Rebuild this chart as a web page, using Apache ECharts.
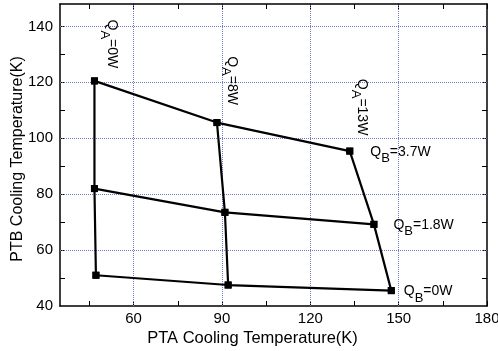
<!DOCTYPE html>
<html>
<head>
<meta charset="utf-8">
<script src="https://cdn.jsdelivr.net/npm/echarts@6/dist/echarts.min.js"></script>
<style>
  html, body { margin: 0; padding: 0; background: #fff; }
  #chart { width: 498px; height: 351px; }
</style>
</head>
<body>
<div id="chart"></div>
<script>
  // rows: one line per QB heat load, points ordered QA = 0W, 8W, 13W
  var qbNames = ['3.7W', '1.8W', '0W'];
  var qaNames = ['0W', '8W', '13W'];
  var ptaTemp = [
    [46.7, 88.3, 133.4],
    [46.7, 91.0, 141.6],
    [47.2, 92.1, 147.5]
  ];
  var ptbTemp = [
    [120.5, 105.6, 95.4],
    [82.0, 73.5, 69.2],
    [51.0, 47.5, 45.5]
  ];
  var xLabels = [60, 90, 120, 150, 180];
  var xTicks = [45, 60, 75, 90, 105, 120, 135, 150, 165, 180];
  var yLabels = [40, 60, 80, 100, 120, 140];
  var yTicks = [50, 60, 70, 80, 90, 100, 110, 120, 130, 140];

  var FONT = 'Liberation Sans, Arial, sans-serif';
  var gridColor = '#6d7cc4';
  var X_MIN = 35, X_MAX = 180, Y_MIN = 40, Y_MAX = 148;

  var rich = {
    q: { fontSize: 14, fontFamily: FONT, color: '#000', lineHeight: 16, verticalAlign: 'top' },
    s: { fontSize: 13, fontFamily: FONT, color: '#000', lineHeight: 14, padding: [7, 0, 0, 0], verticalAlign: 'top' }
  };

  // label offsets for the annotations (style only)
  var qbOffset = [[12, 2], [11, 2], [4, 2]];
  // rotated labels: offset is in the text frame -> [screenDy, -screenDx]
  var qaOffset = [[-37, -16], [-42, -14], [-44, -11]];

  var lineStyle = { color: '#000', width: 2.2 };
  var itemStyle = { color: '#000' };

  var series = [];

  // rows (constant QB)
  for (var i = 0; i < qbNames.length; i++) {
    var d = [];
    for (var j = 0; j < qaNames.length; j++) {
      var pt = { value: [ptaTemp[i][j], ptbTemp[i][j]] };
      if (j === qaNames.length - 1) {
        pt.label = {
          show: true,
          position: 'right',
          offset: qbOffset[i],
          formatter: '{q|Q}{s|B}{q|=' + qbNames[i] + '}',
          rich: rich
        };
      }
      d.push(pt);
    }
    series.push({
      type: 'line', data: d, symbol: 'rect', symbolSize: 7,
      lineStyle: lineStyle, itemStyle: itemStyle, z: 5, animation: false
    });
  }

  // columns (constant QA)
  for (var j = 0; j < qaNames.length; j++) {
    var d = [];
    for (var i = 0; i < qbNames.length; i++) {
      var pt = { value: [ptaTemp[i][j], ptbTemp[i][j]] };
      if (i === 0) {
        pt.label = {
          show: true,
          position: 'inside',
          rotate: -90,
          offset: qaOffset[j],
          formatter: '{q|Q}{s|A}{q|=' + qaNames[j] + '}',
          rich: rich
        };
      }
      d.push(pt);
    }
    series.push({
      type: 'line', data: d, symbol: 'rect', symbolSize: 7,
      lineStyle: lineStyle, itemStyle: itemStyle, z: 5, animation: false
    });
  }

  // dotted grid lines at the labelled values
  var gridLines = [];
  xLabels.forEach(function (v) {
    if (v < X_MAX) gridLines.push([{ coord: [v, Y_MIN] }, { coord: [v, Y_MAX] }]);
  });
  yLabels.forEach(function (v) {
    if (v > Y_MIN) gridLines.push([{ coord: [X_MIN, v] }, { coord: [X_MAX, v] }]);
  });
  series.push({
    type: 'line', data: [], z: 1, animation: false,
    markLine: {
      silent: true, symbol: ['none', 'none'], label: { show: false },
      lineStyle: { color: gridColor, type: 'dotted', width: 1 },
      data: gridLines, animation: false
    }
  });

  var axisLine = { show: true, onZero: false, lineStyle: { color: '#000', width: 1.5 } };
  var tickStyle = { color: '#000', width: 1 };

  var option = {
    backgroundColor: '#fff',
    animation: false,
    grid: { left: 60, right: 11, top: 4, bottom: 45, outerBoundsMode: 'none', containLabel: false },
    xAxis: [
      {
        type: 'value', min: X_MIN, max: X_MAX, position: 'bottom',
        axisLine: axisLine,
        axisTick: { show: true, inside: true, length: 5, lineStyle: tickStyle, customValues: xTicks },
        axisLabel: { color: '#000', fontSize: 15, fontFamily: FONT, margin: 5, customValues: xLabels },
        splitLine: { show: false },
        name: 'PTA Cooling Temperature(K)', nameLocation: 'middle', nameGap: 24,
        nameMoveOverlap: false,
        nameTextStyle: { color: '#000', fontSize: 16.5, fontFamily: FONT, padding: [0, 42, 0, 0] }
      },
      {
        type: 'value', min: X_MIN, max: X_MAX, position: 'top',
        axisLine: axisLine,
        axisTick: { show: true, inside: true, length: 5, lineStyle: tickStyle, customValues: xTicks },
        axisLabel: { show: false },
        splitLine: { show: false }
      }
    ],
    yAxis: [
      {
        type: 'value', min: Y_MIN, max: Y_MAX, position: 'left',
        axisLine: axisLine,
        axisTick: { show: true, inside: true, length: 5, lineStyle: tickStyle, customValues: yTicks },
        axisLabel: { color: '#000', fontSize: 15, fontFamily: FONT, margin: 7, customValues: yLabels },
        splitLine: { show: false },
        name: 'PTB Cooling Temperature(K)', nameLocation: 'middle', nameGap: 34,
        nameMoveOverlap: false,
        nameTextStyle: { color: '#000', fontSize: 16, fontFamily: FONT, padding: [0, 8, 0, 0] }
      },
      {
        type: 'value', min: Y_MIN, max: Y_MAX, position: 'right',
        axisLine: axisLine,
        axisTick: { show: true, inside: true, length: 5, lineStyle: tickStyle, customValues: yTicks },
        axisLabel: { show: false },
        splitLine: { show: false }
      }
    ],
    series: series
  };

  var chart = echarts.init(document.getElementById('chart'), null, { renderer: 'canvas' });
  chart.setOption(option);
</script>
</body>
</html>
